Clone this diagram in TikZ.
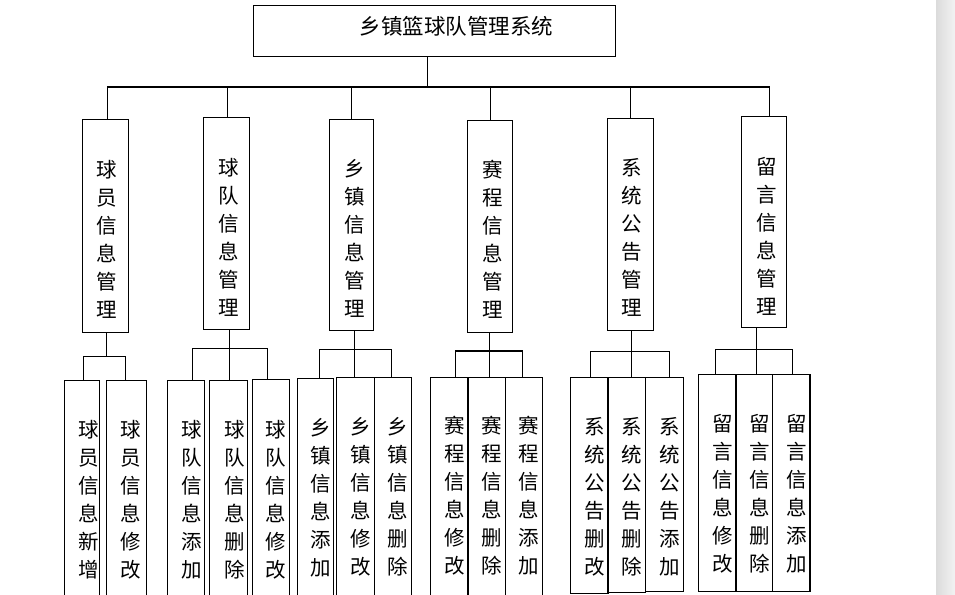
\documentclass[tikz,border=0pt]{standalone}
\usepackage{fontspec}
\setmainfont{Noto Sans CJK SC}
\begin{document}
\begin{tikzpicture}[x=1pt,y=-1pt,
  box/.style={draw=black,line width=1.1pt,inner sep=0pt,anchor=north west},
  vtext/.style={inner sep=0pt,align=center,font=\fontsize{20.5}{28}\selectfont},
  link/.style={draw=black,line width=1.1pt}]
\useasboundingbox (0,0) rectangle (955,594);
\clip (0,0) rectangle (955,594);
\fill[white] (0,0) rectangle (955,594);
\shade[left color=black!14,right color=black!5] (936,0) rectangle (955,594);

% top
\node[box,minimum width=362pt,minimum height=50.5pt] (top) at (253,5.3) {};
\node[inner sep=0pt,font=\fontsize{21.5}{24}\selectfont] (toptext) at (456.5,26.7) {乡镇篮球队管理系统};

% level 2
\node[box,minimum width=46pt,minimum height=213pt] (p1) at (82.3,119.3) {};
\node[box,minimum width=46pt,minimum height=212pt] (p2) at (203.3,117.3) {};
\node[box,minimum width=44pt,minimum height=210.7pt] (p3) at (329.3,119.3) {};
\node[box,minimum width=45pt,minimum height=212pt] (p4) at (467.3,120.3) {};
\node[box,minimum width=46pt,minimum height=211.7pt] (p5) at (607.3,118.3) {};
\node[box,minimum width=45pt,minimum height=211pt] (p6) at (741.3,116.3) {};
\node[vtext] (t1) at (106.7,239) {球\\员\\信\\息\\管\\理};
\node[vtext] (t2) at (228.3,237.5) {球\\队\\信\\息\\管\\理};
\node[vtext] (t3) at (355,238.5) {乡\\镇\\信\\息\\管\\理};
\node[vtext] (t4) at (492.7,239) {赛\\程\\信\\息\\管\\理};
\node[vtext] (t5) at (632,237.5) {系\\统\\公\\告\\管\\理};
\node[vtext] (t6) at (766.7,236) {留\\言\\信\\息\\管\\理};

% level 3
\node[box,minimum width=35pt,minimum height=220pt] (c1a) at (64.3,380.3) {};
\node[box,minimum width=40pt,minimum height=220pt] (c1b) at (106.3,380.3) {};
\node[box,minimum width=37pt,minimum height=220pt] (c2a) at (167.3,380.3) {};
\node[box,minimum width=38pt,minimum height=220pt] (c2b) at (209.3,380.3) {};
\node[box,minimum width=37.6pt,minimum height=221pt] (c2c) at (251.7,379.3) {};
\node[box,minimum width=36.6pt,minimum height=222pt] (c3a) at (296.7,378.3) {};
\node[box,minimum width=37.4pt,minimum height=223pt] (c3b) at (336.3,377.3) {};
\node[box,minimum width=37.6pt,minimum height=223pt] (c3c) at (373.7,377.3) {};
\node[box,minimum width=37.1pt,minimum height=223pt] (c4a) at (430.3,377.3) {};
\node[box,minimum width=37.9pt,minimum height=223pt] (c4b) at (467.4,377.3) {};
\node[box,minimum width=36.2pt,minimum height=223pt] (c4c) at (505.3,377.3) {};
\node[box,minimum width=37.9pt,minimum height=215.3pt] (c5a) at (569.5,377.3) {};
\node[box,minimum width=37.2pt,minimum height=215pt] (c5b) at (607.4,377.3) {};
\node[box,minimum width=37.9pt,minimum height=213.7pt] (c5c) at (644.6,377.3) {};
\node[box,minimum width=37.9pt,minimum height=216.7pt] (c6a) at (697.5,374.3) {};
\node[box,minimum width=36.1pt,minimum height=216.7pt] (c6b) at (735.4,374.3) {};
\node[box,minimum width=37.9pt,minimum height=216.7pt] (c6c) at (771.5,374.3) {};

\node[vtext] (s1a) at (89,500) {球\\员\\信\\息\\新\\增};
\node[vtext] (s1b) at (131,500) {球\\员\\信\\息\\修\\改};
\node[vtext] (s2a) at (192,500) {球\\队\\信\\息\\添\\加};
\node[vtext] (s2b) at (235,500) {球\\队\\信\\息\\删\\除};
\node[vtext] (s2c) at (276,500) {球\\队\\信\\息\\修\\改};
\node[vtext] (s3a) at (321,497.5) {乡\\镇\\信\\息\\添\\加};
\node[vtext] (s3b) at (361,497) {乡\\镇\\信\\息\\修\\改};
\node[vtext] (s3c) at (397.7,497) {乡\\镇\\信\\息\\删\\除};
\node[vtext] (s4a) at (455.2,496) {赛\\程\\信\\息\\修\\改};
\node[vtext] (s4b) at (491.7,496) {赛\\程\\信\\息\\删\\除};
\node[vtext] (s4c) at (529.2,496) {赛\\程\\信\\息\\添\\加};
\node[vtext] (s5a) at (594.7,496.5) {系\\统\\公\\告\\删\\改};
\node[vtext] (s5b) at (631.6,496.5) {系\\统\\公\\告\\删\\除};
\node[vtext] (s5c) at (669.8,496.5) {系\\统\\公\\告\\添\\加};
\node[vtext] (s6a) at (723,494) {留\\言\\信\\息\\修\\改};
\node[vtext] (s6b) at (759.6,494) {留\\言\\信\\息\\删\\除};
\node[vtext] (s6c) at (796.5,494) {留\\言\\信\\息\\添\\加};

% junctions
\coordinate (tb) at (427.5,87);
\coordinate (h1) at (106.3,356.7);
\coordinate (h2) at (229.3,348.3);
\coordinate (h3) at (354.3,349.3);
\coordinate (h4) at (489.3,351);
\coordinate (h5) at (631.3,351.3);
\coordinate (h6) at (756.3,349.3);

% top connectors
\draw[link] (top.south -| tb) -- (tb);
\draw[link] ([xshift=1.7pt]p1.north) |- (tb);
\draw[link] ([xshift=0.7pt]p2.north) |- (tb);
\draw[link] ([xshift=-0.3pt]p3.north) |- (tb);
\draw[link] ([xshift=0.5pt]p4.north) |- (tb);
\draw[link] (p5.north) |- (tb);
\draw[link] ([xshift=4.9pt]p6.north) |- (tb);

% group connectors
\draw[link] (p1.south -| h1) -- (h1);
\draw[link] ([xshift=1.5pt]c1a.north) |- (h1);
\draw[link] ([xshift=-1pt]c1b.north) |- (h1);

\draw[link] (p2.south -| h2) -- (h2);
\draw[link] ([xshift=5.9pt]c2a.north) |- (h2);
\draw[link] ([xshift=1pt]c2b.north) |- (h2);
\draw[link] ([xshift=-3.8pt]c2c.north) |- (h2);

\draw[link] (p3.south -| h3) -- (h3);
\draw[link] ([xshift=3.7pt]c3a.north) |- (h3);
\draw[link] ([xshift=-0.7pt]c3b.north) |- (h3);
\draw[link] ([xshift=-1.2pt]c3c.north) |- (h3);

\draw[link] (p4.south -| h4) -- (h4);
\draw[link] ([xshift=6.45pt]c4a.north) |- (h4);
\draw[link] ([xshift=2.95pt]c4b.north) |- (h4);
\draw[link] ([xshift=-1.1pt]c4c.north) |- (h4);

\draw[link] (p5.south -| h5) -- (h5);
\draw[link] ([xshift=1.85pt]c5a.north) |- (h5);
\draw[link] ([xshift=5.3pt]c5b.north) |- (h5);
\draw[link] ([xshift=5.75pt]c5c.north) |- (h5);

\draw[link] (p6.south -| h6) -- (h6);
\draw[link] ([xshift=-1.15pt]c6a.north) |- (h6);
\draw[link] ([xshift=2.85pt]c6b.north) |- (h6);
\draw[link] ([xshift=1.55pt]c6c.north) |- (h6);
\end{tikzpicture}
\end{document}
